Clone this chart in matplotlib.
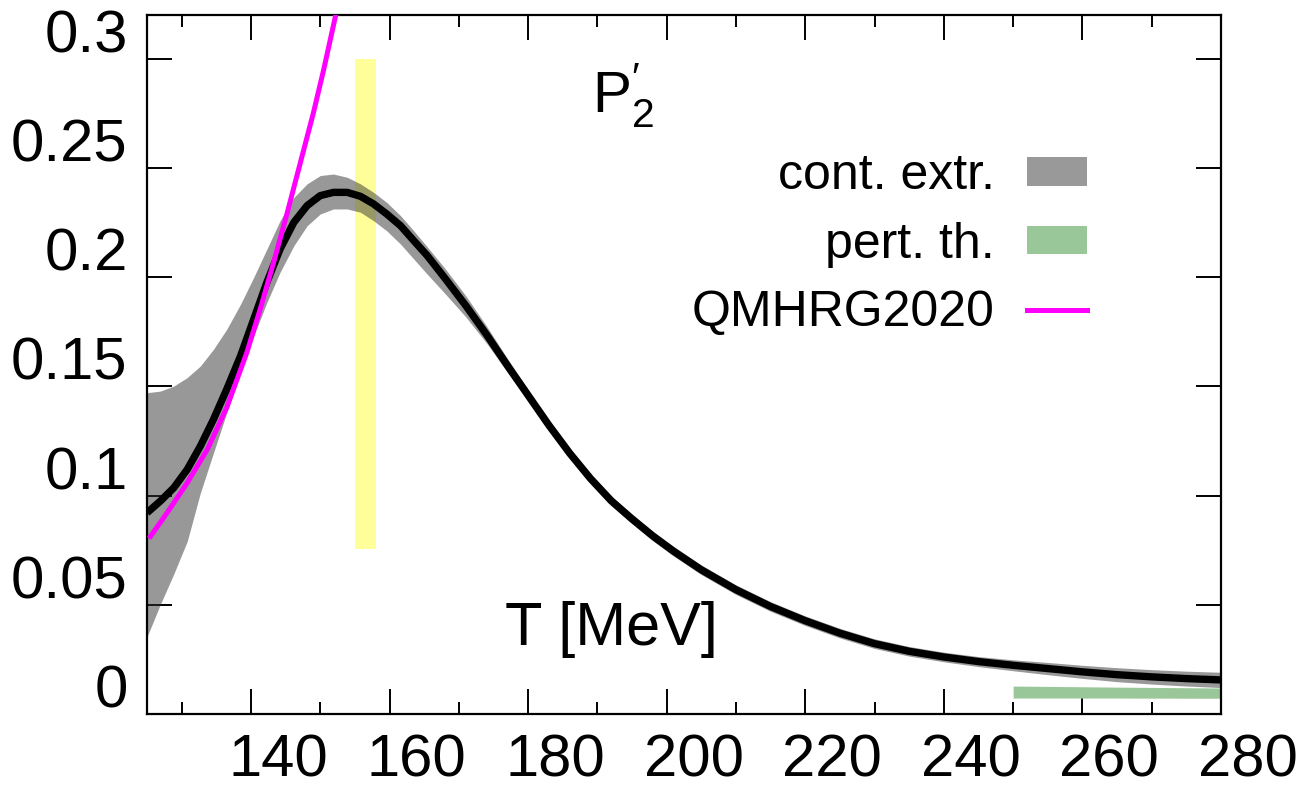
import numpy as np
import matplotlib
matplotlib.use("Agg")
import matplotlib.pyplot as plt
from matplotlib.patches import Patch
from matplotlib.lines import Line2D
from matplotlib.transforms import ScaledTranslation

plt.rcParams['font.family'] = ['Liberation Sans', 'DejaVu Sans']
plt.rcParams['mathtext.fontset'] = 'custom'
plt.rcParams['mathtext.rm'] = 'Liberation Sans'
plt.rcParams['mathtext.it'] = 'Liberation Sans'

# continuum extrapolation: central value and band edges
T = [125.0, 126.9, 128.85, 130.8, 132.7, 134.6, 136.5, 138.5, 140.4, 142.3,
     144.2, 146.2, 148.1, 150.0, 151.9, 153.9, 155.8, 157.7, 159.6, 161.6,
     163.5, 165.4, 168, 171, 174, 177, 180, 183, 186, 189, 192, 195, 198, 201,
     205, 210, 215, 220, 225, 230, 235, 240, 245, 250, 255, 260, 265, 270,
     275, 280]
P2_mid = [0.0921, 0.0974, 0.1035, 0.1119, 0.1226, 0.1349, 0.1486, 0.1639,
          0.1807, 0.1976, 0.2128, 0.2251, 0.2327, 0.2373, 0.2388, 0.2388,
          0.2370, 0.2335, 0.2289, 0.2235, 0.2167, 0.2100, 0.1995, 0.1870,
          0.1737, 0.1596, 0.1459, 0.1322, 0.1194, 0.1078, 0.0976, 0.0893,
          0.0815, 0.0745, 0.0660, 0.0569, 0.0492, 0.0427, 0.0370, 0.0322,
          0.0287, 0.0261, 0.0240, 0.0223, 0.0208, 0.0193, 0.0180, 0.0170,
          0.0162, 0.0156]
P2_hi = [0.1471, 0.1478, 0.1501, 0.1540, 0.1593, 0.1670, 0.1761, 0.1876,
         0.1999, 0.2128, 0.2258, 0.2365, 0.2427, 0.2465, 0.2472, 0.2457,
         0.2427, 0.2388, 0.2342, 0.2281, 0.2212, 0.2140, 0.2040, 0.1915,
         0.1776, 0.1628, 0.1483, 0.1344, 0.1216, 0.1100, 0.0998, 0.0915,
         0.0837, 0.0767, 0.0682, 0.0591, 0.0514, 0.0449, 0.0392, 0.0344,
         0.0309, 0.0283, 0.0263, 0.0248, 0.0236, 0.0223, 0.0212, 0.0203,
         0.0196, 0.0191]
P2_lo = [0.0353, 0.0500, 0.0640, 0.0790, 0.1012, 0.1196, 0.1379, 0.1563,
         0.1731, 0.1884, 0.2022, 0.2144, 0.2235, 0.2289, 0.2312, 0.2312,
         0.2297, 0.2258, 0.2212, 0.2151, 0.2083, 0.2015, 0.1925, 0.1818,
         0.1698, 0.1565, 0.1435, 0.1300, 0.1172, 0.1056, 0.0954, 0.0871,
         0.0793, 0.0723, 0.0638, 0.0547, 0.0470, 0.0405, 0.0348, 0.0300,
         0.0265, 0.0239, 0.0217, 0.0198, 0.0180, 0.0163, 0.0148, 0.0137,
         0.0128, 0.0121]

# perturbation theory band
T_pert = [250, 265, 280]
pert_hi = [0.0128, 0.0123, 0.0119]
pert_lo = [0.0073, 0.0073, 0.0072]

# HRG curve
T_hrg = [125.5, 127.9, 130.8, 133.7, 136.5, 139.4, 141.4, 143.3, 145.2, 147.1,
         149.0, 150.5, 152.1, 153.0]
P2_hrg = [0.0813, 0.0921, 0.1058, 0.1211, 0.1402, 0.1654, 0.186, 0.207, 0.229,
          0.252, 0.275, 0.295, 0.318, 0.331]

# crossover temperature band
T_pc = [155.0, 158.0]
pc_lo, pc_hi = 0.0757, 0.300

fig = plt.figure(figsize=(12.99, 8.0), dpi=100)
ax = fig.add_axes([147 / 1299, 86 / 800, 1074 / 1299, 699 / 800])

ax.fill_between(T_pc, pc_lo, pc_hi, color='#ffff99', lw=0, zorder=1)
ax.fill_between(T, P2_lo, P2_hi, color='#333333', alpha=0.5, lw=0, zorder=2)
ax.fill_between(T_pert, pert_lo, pert_hi, color='#9ac79a', lw=0, zorder=2)
ax.plot(T, P2_mid, color='black', lw=5.3, zorder=4, solid_capstyle='butt',
        solid_joinstyle='round')
ax.plot(T_hrg, P2_hrg, color='magenta', lw=3.6, zorder=5,
        solid_joinstyle='round')

ax.set_xlim(125, 280)
ax.set_ylim(0, 0.32)
ax.set_xticks([140, 160, 180, 200, 220, 240, 260, 280])
ax.set_xticks(np.arange(130, 281, 20), minor=True)
ax.set_yticks([0, 0.05, 0.1, 0.15, 0.2, 0.25, 0.3])
ax.set_yticklabels(['0', '0.05', '0.1', '0.15', '0.2', '0.25', '0.3'])

ax.tick_params(which='both', direction='in', top=True, right=True, width=1.4,
               labelsize=43)
ax.tick_params(which='major', length=18)
ax.tick_params(which='minor', length=8.6)
ax.tick_params(axis='x', pad=14)
ax.tick_params(axis='y', pad=14)
for s in ax.spines.values():
    s.set_linewidth(1.6)

# labels sit shifted from their ticks, as in the original
dx = ScaledTranslation(0.27, 0, fig.dpi_scale_trans)
dy = ScaledTranslation(0, 0.28, fig.dpi_scale_trans)
for t in ax.xaxis.get_major_ticks():
    t.label1.set_transform(t.label1.get_transform() + dx)
for t in ax.yaxis.get_major_ticks():
    t.label1.set_transform(t.label1.get_transform() + dy)

ax.text(0.432, 0.0987, 'T [MeV]', transform=ax.transAxes, fontsize=44,
        ha='center', va='baseline')
ax.text(0.443, 0.885, r"$\mathrm{P}_{2}^{\prime}$", transform=ax.transAxes,
        fontsize=42, ha='center', va='center')

handles = [Patch(facecolor='#999999', lw=0),
           Patch(facecolor='#9ac79a', lw=0),
           Line2D([], [], color='magenta', lw=3.6)]
labels = ['cont. extr.', 'pert. th.', 'QMHRG2020']
ax.legend(handles, labels, loc='upper right', bbox_to_anchor=(0.875, 0.802),
          fontsize=36, markerfirst=False, frameon=False, handlelength=1.2,
          handleheight=0.5, handletextpad=0.64, labelspacing=0.45,
          borderpad=0, borderaxespad=0)

fig.savefig('out.png', dpi=100)
